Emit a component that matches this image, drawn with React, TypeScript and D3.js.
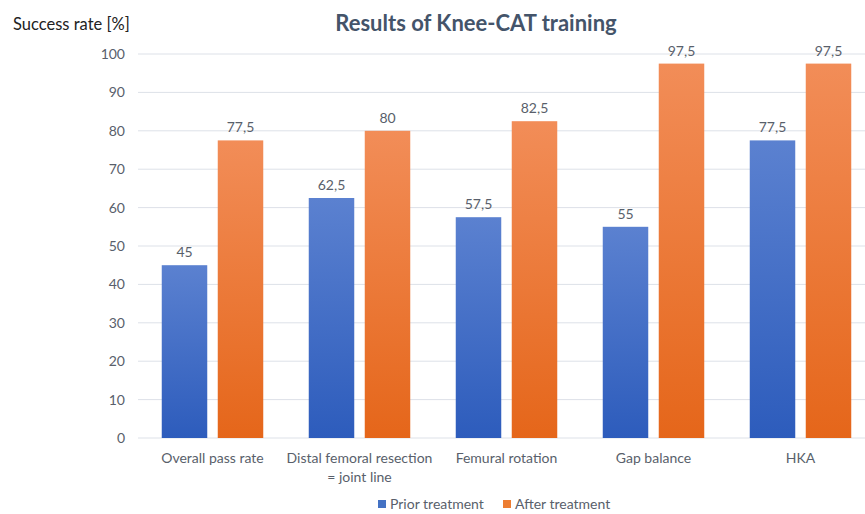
import { scaleBand, scaleLinear } from "d3";

const categories = ["Overall pass rate", "Distal femoral resection\n= joint line", "Femural rotation", "Gap balance", "HKA"];
const priorValues = [45, 62.5, 57.5, 55, 77.5];
const afterValues = [77.5, 80, 82.5, 97.5, 97.5];
const seriesNames = ["Prior treatment", "After treatment"];
const yTicks = [0, 10, 20, 30, 40, 50, 60, 70, 80, 90, 100];

const fmt = (v: number) => String(v).replace(".", ",");

export default function App() {
  const width = 865;
  const height = 514;
  const gridLeft = 138;
  const y = scaleLinear().domain([0, 100]).range([438, 54]);
  const x = scaleBand<string>().domain(categories).range([139, 874]);
  const font = "Lato, 'Open Sans', sans-serif";
  const barW = 45.5;
  const gap = 10.5;
  const textColor = "#595f6b";

  return (
    <svg width={width} height={height} style={{ position: "absolute", left: 0, top: 0, background: "#fff" }} fontFamily={font}>
      <defs>
        <linearGradient id="blueGrad" x1="0" y1="0" x2="0" y2="1">
          <stop offset="0" stopColor="#5b81d0" />
          <stop offset="1" stopColor="#2d5cbc" />
        </linearGradient>
        <linearGradient id="orangeGrad" x1="0" y1="0" x2="0" y2="1">
          <stop offset="0" stopColor="#f28d58" />
          <stop offset="1" stopColor="#e5661a" />
        </linearGradient>
      </defs>
      <text x={13} y={30} fontSize={16.5} fill="#222">Success rate [%]</text>
      <text x={476} y={31} fontSize={22} fontWeight="bold" fill="#44546a" textAnchor="middle">
        Results of Knee-CAT training
      </text>
      {yTicks.map((t) => (
        <g key={t}>
          <line x1={gridLeft} x2={width} y1={y(t)} y2={y(t)} stroke="#dde1e8" strokeWidth={1} />
          <text x={125} y={y(t) + 5} fontSize={14} fill={textColor} textAnchor="end">{t}</text>
        </g>
      ))}
      {categories.map((c, i) => {
        const cx = x(c)! + x.bandwidth() / 2;
        const bx = cx - gap / 2 - barW;
        const ox = cx + gap / 2;
        const lines = c.split("\n");
        return (
          <g key={c}>
            <rect x={bx} y={y(priorValues[i])} width={barW} height={y(0) - y(priorValues[i])} fill="url(#blueGrad)" />
            <rect x={ox} y={y(afterValues[i])} width={barW} height={y(0) - y(afterValues[i])} fill="url(#orangeGrad)" />
            <text x={bx + barW / 2} y={y(priorValues[i]) - 8} fontSize={14} fill={textColor} textAnchor="middle">{fmt(priorValues[i])}</text>
            <text x={ox + barW / 2} y={y(afterValues[i]) - 8} fontSize={14} fill={textColor} textAnchor="middle">{fmt(afterValues[i])}</text>
            {lines.map((l, j) => (
              <text key={j} x={cx} y={463 + j * 19} fontSize={14} fill={textColor} textAnchor="middle">{l}</text>
            ))}
          </g>
        );
      })}
      <g>
        <rect x={378} y={500} width={8} height={8} fill="#4472c4" />
        <text x={390} y={509} fontSize={14} fill={textColor}>{seriesNames[0]}</text>
        <rect x={503} y={500} width={8} height={8} fill="#ed7d31" />
        <text x={515} y={509} fontSize={14} fill={textColor}>{seriesNames[1]}</text>
      </g>
    </svg>
  );
}
